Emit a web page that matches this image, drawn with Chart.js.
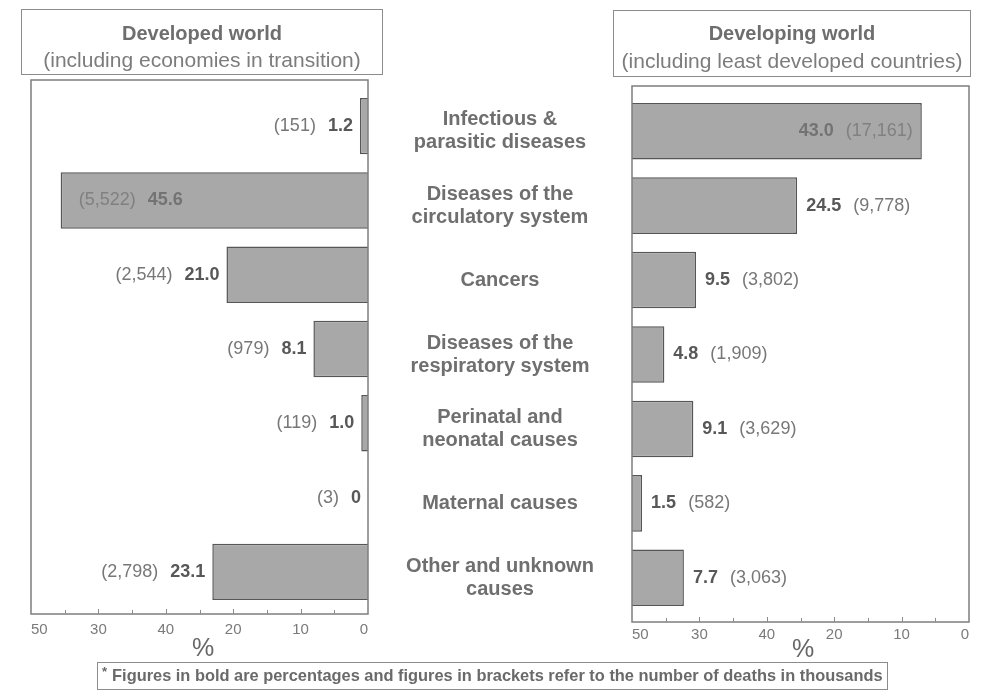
<!DOCTYPE html>
<html>
<head>
<meta charset="utf-8">
<title>Causes of death: developed and developing world</title>
<script src="https://cdn.jsdelivr.net/npm/chart.js@4.4.1/dist/chart.umd.min.js"></script>
<style>
  html, body { margin: 0; padding: 0; background: #ffffff; }
  #page { position: relative; width: 983px; height: 693px; overflow: hidden;
          font-family: "Liberation Sans", Arial, Helvetica, sans-serif; color: #777; }
  #page canvas { position: absolute; left: 0; top: 0; }
  .tbox { position: absolute; border: 1.5px solid #8c8c8c; box-sizing: border-box; }
  .tbox div { position: absolute; left: 0; right: 0; text-align: center; line-height: 24px; white-space: nowrap; }
  .tbox .l1 { font-weight: bold; font-size: 20px; color: #6e6e6e; }
  .tbox .l2 { font-size: 21px; color: #7c7c7c; }
  .pct { position: absolute; font-size: 25px; color: #666; line-height: 26px; }
  #note { position: absolute; left: 97px; top: 662px; width: 791px; height: 28px; box-sizing: border-box;
          border: 1.5px solid #8c8c8c; font-size: 16.4px; font-weight: bold; color: #6a6a6a;
          line-height: 25px; padding-left: 4px; white-space: nowrap; }
  #note sup { font-size: 13px; vertical-align: 5px; line-height: 0; margin-right: 5px; }
</style>
</head>
<body>
<div id="page">
  <canvas id="developed" width="983" height="693"></canvas>
  <canvas id="developing" width="983" height="693"></canvas>

  <div class="tbox" style="left:21px;top:9px;width:362px;height:66px;">
    <div class="l1" style="top:11px;">Developed world</div>
    <div class="l2" style="top:38px;">(including economies in transition)</div>
  </div>
  <div class="tbox" style="left:613px;top:10px;width:358px;height:67px;">
    <div class="l1" style="top:10px;">Developing world</div>
    <div class="l2" style="top:38px;">(including least developed countries)</div>
  </div>

  <div class="pct" style="left:192px;top:634px;">%</div>
  <div class="pct" style="left:792px;top:635px;">%</div>

  <div id="note"><sup>*</sup>Figures in bold are percentages and figures in brackets refer to the number of deaths in thousands</div>
</div>

<script>
// Causes of death, shares (%) and deaths (thousands)
const causes = [
  ['Infectious &', 'parasitic diseases'],
  ['Diseases of the', 'circulatory system'],
  ['Cancers'],
  ['Diseases of the', 'respiratory system'],
  ['Perinatal and', 'neonatal causes'],
  ['Maternal causes'],
  ['Other and unknown', 'causes']
];
const developedPct = [1.2, 45.6, 21.0, 8.1, 1.0, 0, 23.1];
const developedDeaths = [151, 5522, 2544, 979, 119, 3, 2798];
const developingPct = [43.0, 24.5, 9.5, 4.8, 9.1, 1.5, 7.7];
const developingDeaths = [17161, 9778, 3802, 1909, 3629, 582, 3063];

// Axis labels printed under ticks 0, 10, 20, 30, 40, 50
const developedTickLabels = ['0', '10', '20', '40', '30', '50'];
const developingTickLabels = ['50', '30', '40', '20', '10', '0'];

const FONT = '"Liberation Sans", Arial, Helvetica, sans-serif';
Chart.defaults.font.family = FONT;
Chart.defaults.color = '#777';

const BAR_FILL = '#a8a8a8';
const BAR_EDGE = '#565656';
const LABEL_SIZE = 18;

const fmtPct = v => (v === 0 ? '0' : v.toFixed(1));
const fmtDeaths = n => '(' + n.toLocaleString('en-US') + ')';

// Panel frame with small ticks every 5 % along its bottom edge
function panelFrame(id, padTop, padBottom) {
  return {
    id,
    afterDraw(chart) {
      const { ctx, chartArea: a, scales: { x } } = chart;
      const top = a.top - padTop, bottom = a.bottom + padBottom;
      ctx.save();
      ctx.strokeStyle = '#7e7e7e';
      ctx.lineWidth = 1.5;
      ctx.strokeRect(a.left, top, a.right - a.left, bottom - top);
      ctx.lineWidth = 1;
      ctx.strokeStyle = '#8a8a8a';
      for (let v = 5; v < 50; v += 5) {
        const px = Math.round(x.getPixelForValue(v)) + 0.5;
        const len = v % 10 === 0 ? 5 : 4;
        ctx.beginPath();
        ctx.moveTo(px, bottom);
        ctx.lineTo(px, bottom - len);
        ctx.stroke();
      }
      ctx.restore();
    }
  };
}

// Keep the outermost tick labels inside the panel on both sides
const innerEndLabels = {
  id: 'innerEndLabels',
  beforeDraw(chart) {
    const items = chart.scales.x.getLabelItems();
    if (!items || !items.length) return;
    const xOf = it => (it.options && it.options.translation ? it.options.translation[0] : 0);
    let lo = items[0], hi = items[0];
    items.forEach(it => {
      if (xOf(it) < xOf(lo)) lo = it;
      if (xOf(it) > xOf(hi)) hi = it;
    });
    items.forEach(it => { it.options.textAlign = 'center'; });
    lo.options.textAlign = 'left';
    hi.options.textAlign = 'right';
  }
};

// "(deaths) pct" labels beside each bar; long bars carry the label inside
function valueLabels(id, pct, deaths, growsLeft) {
  const gap = 12;
  return {
    id,
    afterDatasetsDraw(chart) {
      const { ctx } = chart;
      const meta = chart.getDatasetMeta(0);
      const bold = 'bold ' + LABEL_SIZE + 'px ' + FONT;
      const reg = LABEL_SIZE + 'px ' + FONT;
      ctx.save();
      ctx.textBaseline = 'middle';
      ctx.textAlign = 'left';
      meta.data.forEach((bar, i) => {
        const p = fmtPct(pct[i]);
        const d = fmtDeaths(deaths[i]);
        const inside = pct[i] > 40;
        const y = bar.y;
        ctx.font = bold;
        const pw = ctx.measureText(p).width;
        ctx.font = reg;
        const dw = ctx.measureText(d).width;
        let dx, px;
        if (growsLeft) {
          if (inside) { dx = bar.x + 18; px = dx + dw + gap; }
          else { px = bar.x - 7 - pw; dx = px - gap - dw; }
        } else {
          if (inside) { dx = bar.x - 9 - dw; px = dx - gap - pw; }
          else { px = bar.x + 9; dx = px + pw + gap; }
        }
        ctx.font = bold;
        ctx.fillStyle = inside ? '#737373' : '#585858';
        ctx.fillText(p, px, y);
        ctx.font = reg;
        ctx.fillStyle = inside ? '#808080' : '#777777';
        ctx.fillText(d, dx, y);
      });
      ctx.restore();
    }
  };
}

function xAxis(reverse, tickLabels, pad) {
  return {
    type: 'linear',
    min: 0,
    max: 50,
    reverse,
    position: 'bottom',
    grid: { display: false, drawTicks: false },
    border: { display: false },
    ticks: {
      stepSize: 10,
      autoSkip: false,
      maxRotation: 0,
      align: 'inner',
      padding: pad,
      color: '#7a7a7a',
      font: { size: 15 },
      callback: v => tickLabels[Math.round(v / 10)]
    },
    afterFit(scale) { scale.height = 40; }
  };
}

function barDataset(values) {
  return {
    data: values,
    backgroundColor: BAR_FILL,
    borderColor: BAR_EDGE,
    borderWidth: 1.5,
    barPercentage: 0.76,
    categoryPercentage: 1.0
  };
}

const common = {
  responsive: false,
  animation: false,
  indexAxis: 'y',
  plugins: { legend: { display: false }, tooltip: { enabled: false } }
};

// Developed world: bars grow to the left from the panel's right edge
new Chart(document.getElementById('developed'), {
  type: 'bar',
  data: { labels: causes, datasets: [barDataset(developedPct)] },
  options: {
    ...common,
    layout: { padding: { left: 31, right: 615, top: 89, bottom: 44 } },
    scales: {
      x: xAxis(true, developedTickLabels, 12),
      y: { type: 'category', display: false }
    }
  },
  plugins: [innerEndLabels, panelFrame('developedFrame', 9, 5),
            valueLabels('developedLabels', developedPct, developedDeaths, true)]
});

// Cause names sit in the gap between the panels, centred on it
const labelFont = 'bold 20px ' + FONT;
const measureCtx = document.createElement('canvas').getContext('2d');
measureCtx.font = labelFont;
let widest = 0;
causes.forEach(lines => lines.forEach(t => { widest = Math.max(widest, measureCtx.measureText(t).width); }));
const gapCentre = 500, panelLeft = 632, axisWidth = 262;

// Developing world: bars grow to the right, cause names on its category axis
new Chart(document.getElementById('developing'), {
  type: 'bar',
  data: { labels: causes, datasets: [barDataset(developingPct)] },
  options: {
    ...common,
    layout: { padding: { left: panelLeft - axisWidth, right: 14, top: 94, bottom: 38 } },
    scales: {
      x: xAxis(false, developingTickLabels, 11),
      y: {
        type: 'category',
        position: 'left',
        grid: { display: false, drawTicks: false, tickLength: 0 },
        border: { display: false },
        ticks: {
          crossAlign: 'center',
          padding: Math.max(0, panelLeft - gapCentre - widest / 2),
          color: '#6f6f6f',
          font: { size: 20, weight: 'bold', lineHeight: 1.15 }
        },
        afterFit(scale) { scale.width = axisWidth; }
      }
    }
  },
  plugins: [innerEndLabels, panelFrame('developingFrame', 8, 7),
            valueLabels('developingLabels', developingPct, developingDeaths, false)]
});
</script>
</body>
</html>
